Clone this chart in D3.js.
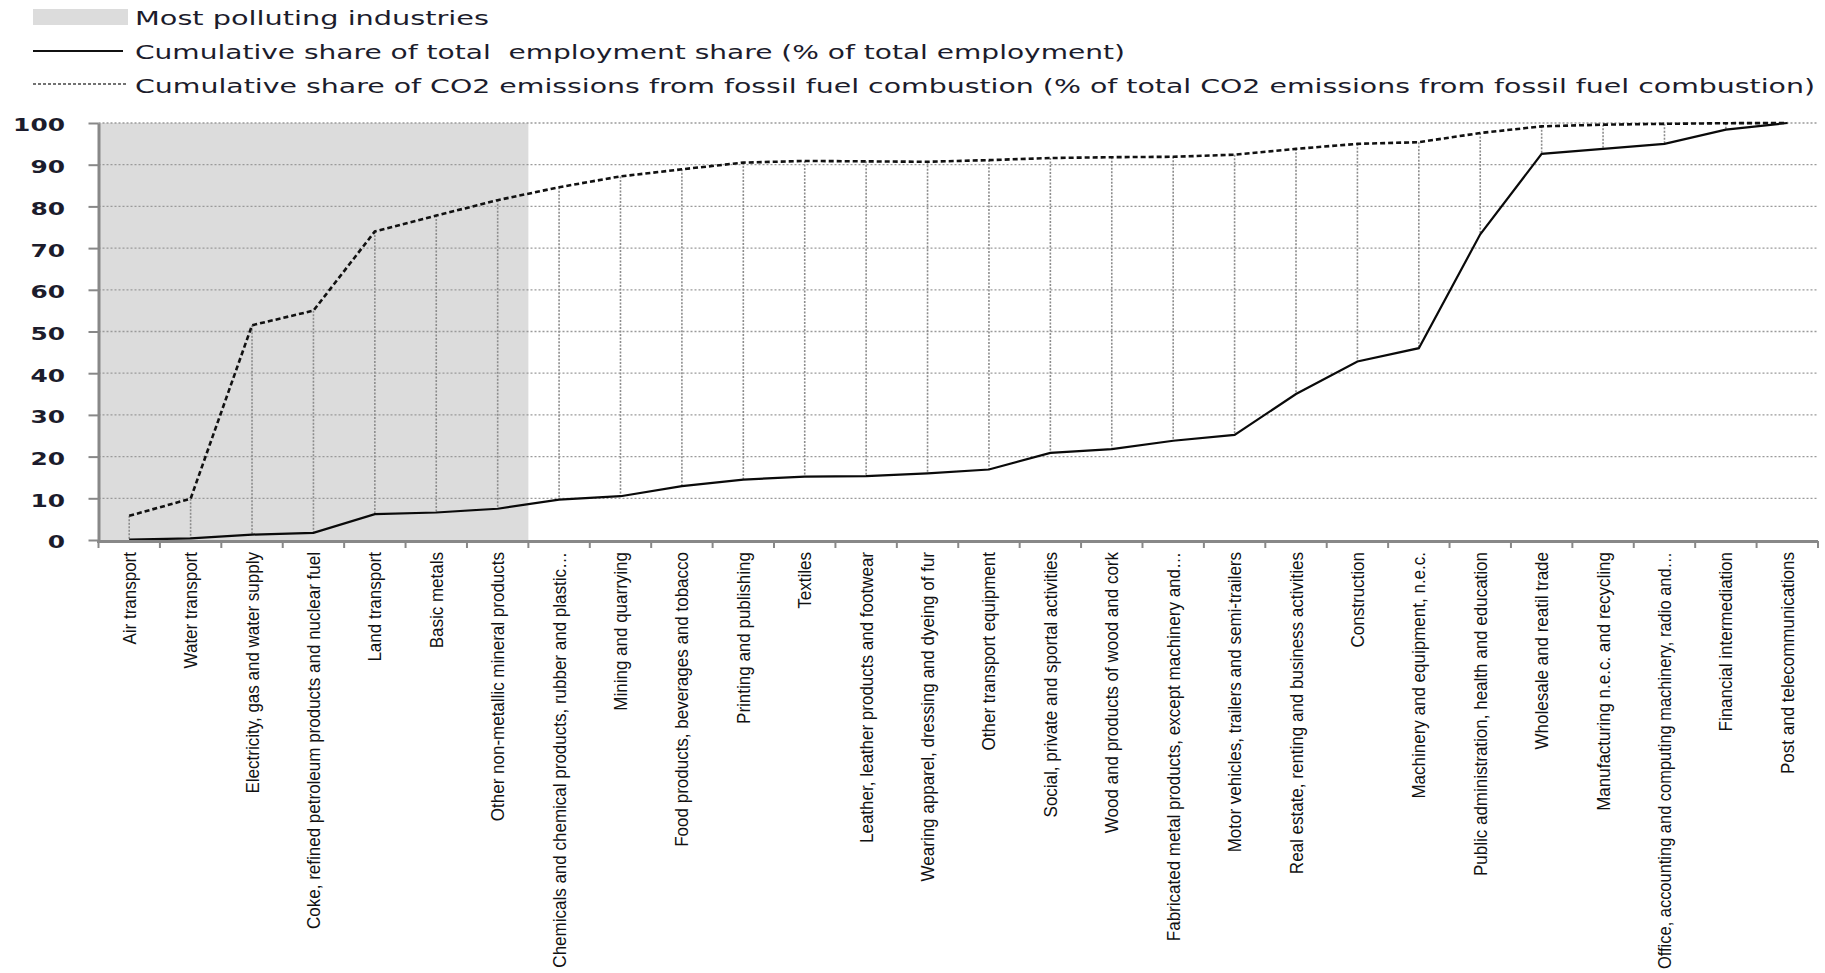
<!DOCTYPE html>
<html>
<head>
<meta charset="utf-8">
<script src="https://cdn.jsdelivr.net/npm/d3@7"></script>
<style>
  body { margin: 0; background: #ffffff; }
  svg { display: block; }
</style>
</head>
<body>
<svg id="chart" width="1825" height="973"></svg>
<script>
// ---------------- DATA ----------------
const categories = [
  "Air transport",
  "Water transport",
  "Electricity, gas and water supply",
  "Coke, refined petroleum products and nuclear fuel",
  "Land transport",
  "Basic metals",
  "Other non-metallic mineral products",
  "Chemicals and chemical products, rubber and plastic…",
  "Mining and quarrying",
  "Food products, beverages and tobacco",
  "Printing and publishing",
  "Textiles",
  "Leather, leather products and footwear",
  "Wearing apparel, dressing and dyeing of fur",
  "Other transport equipment",
  "Social, private and sportal activities",
  "Wood and products of wood and cork",
  "Fabricated metal products, except machinery and…",
  "Motor vehicles, trailers and semi-trailers",
  "Real estate, renting and business activities",
  "Construction",
  "Machinery and equipment, n.e.c.",
  "Public administration, health and education",
  "Wholesale and reatil trade",
  "Manufacturing n.e.c. and recycling",
  "Office, accounting and computing machinery, radio and…",
  "Financial intermediation",
  "Post and telecommunications"
];

// Cumulative share of CO2 emissions from fossil fuel combustion (%)
const co2Share = [5.8, 9.9, 51.5, 55.0, 74.0, 77.8, 81.5, 84.6, 87.2, 88.9, 90.5, 90.9, 90.8, 90.7,
                  91.1, 91.6, 91.8, 91.9, 92.4, 93.8, 95.0, 95.4, 97.6, 99.2, 99.6, 99.8, 99.95, 100];

// Cumulative share of total employment (%)
const employmentShare = [0.1, 0.4, 1.3, 1.7, 6.2, 6.6, 7.5, 9.7, 10.5, 12.9, 14.5, 15.2, 15.3, 16.0,
                         16.9, 20.9, 21.8, 23.8, 25.2, 35.0, 42.8, 46.0, 73.3, 92.6, 93.8, 95.0, 98.4, 100];

const pollutingIndustries = [
  "Air transport",
  "Water transport",
  "Electricity, gas and water supply",
  "Coke, refined petroleum products and nuclear fuel",
  "Land transport",
  "Basic metals",
  "Other non-metallic mineral products"
];

const yTicks = [0, 10, 20, 30, 40, 50, 60, 70, 80, 90, 100];

const legendLabels = [
  "Most polluting industries",
  "Cumulative share of total  employment share (% of total employment)",
  "Cumulative share of CO2 emissions from fossil fuel combustion (% of total CO2 emissions from fossil fuel combustion)"
];

// ---------------- LAYOUT ----------------
const m = { left: 98.5, right: 1818, top: 123, bottom: 540 };
const legendBaselines = [25, 59, 92.5];
const legendWidths = [354, 990, 1680];

// ---------------- CHART ----------------
const svg = d3.select("#chart");

const x = d3.scaleBand().domain(categories).range([m.left, m.right]).padding(0);
const y = d3.scaleLinear().domain([0, 100]).range([m.bottom, m.top]);
const cx = d => x(d) + x.bandwidth() / 2;

const rows = categories.map((c, i) => ({ c, co2: co2Share[i], emp: employmentShare[i] }));

// shaded region for most polluting industries
const pol = categories.filter(c => pollutingIndustries.includes(c));
svg.append("rect")
  .attr("x", x(pol[0]))
  .attr("y", y(100))
  .attr("width", x(pol[pol.length - 1]) + x.bandwidth() - x(pol[0]))
  .attr("height", y(0) - y(100))
  .attr("fill", "#dcdcdc");

// horizontal gridlines
svg.append("g").selectAll("line")
  .data(yTicks.filter(t => t > 0))
  .join("line")
  .attr("x1", m.left).attr("x2", m.right)
  .attr("y1", d => y(d)).attr("y2", d => y(d))
  .attr("stroke", "#9a9a9a")
  .attr("stroke-width", 1.3)
  .attr("stroke-dasharray", "2,2");

// high-low (drop) lines
svg.append("g").selectAll("line")
  .data(rows)
  .join("line")
  .attr("x1", d => cx(d.c)).attr("x2", d => cx(d.c))
  .attr("y1", d => y(d.co2)).attr("y2", d => y(d.emp))
  .attr("stroke", "#8c8c8c")
  .attr("stroke-width", 1.6)
  .attr("stroke-dasharray", "2,1.5");

// series lines
const lineGen = key => d3.line().x(d => cx(d.c)).y(d => y(d[key]));
svg.append("path").datum(rows)
  .attr("d", lineGen("emp"))
  .attr("fill", "none").attr("stroke", "#0a0a0a").attr("stroke-width", 2.2);
svg.append("path").datum(rows)
  .attr("d", lineGen("co2"))
  .attr("fill", "none").attr("stroke", "#111").attr("stroke-width", 2.6)
  .attr("stroke-dasharray", "5,3");

// y axis
const yAxis = d3.axisLeft(y).tickValues(yTicks).tickSize(10).tickSizeOuter(0)
  .tickPadding(23.5).tickFormat(d3.format("d"));
const gy = svg.append("g").attr("transform", `translate(${m.left},0)`).call(yAxis);
gy.select(".domain").attr("stroke", "#888").attr("stroke-width", 3);
gy.selectAll(".tick line").attr("stroke", "#888").attr("stroke-width", 2);
gy.selectAll(".tick text")
  .attr("font-family", "DejaVu Sans, Verdana, sans-serif")
  .attr("font-weight", "bold")
  .attr("font-size", 18)
  .attr("fill", "#1c1c2c")
  .attr("dy", "0.44em")
  .attr("textLength", d => String(d).length * 17.3)
  .attr("lengthAdjust", "spacingAndGlyphs");

// x axis
const gx = svg.append("g");
gx.append("line")
  .attr("x1", m.left - 1.5).attr("x2", m.right)
  .attr("y1", m.bottom + 1.5).attr("y2", m.bottom + 1.5)
  .attr("stroke", "#888").attr("stroke-width", 3);
gx.selectAll("line.tk")
  .data(categories.map(c => x(c)).concat([m.right]))
  .join("line").attr("class", "tk")
  .attr("x1", d => d).attr("x2", d => d)
  .attr("y1", m.bottom + 1).attr("y2", m.bottom + 8)
  .attr("stroke", "#888").attr("stroke-width", 2);
const labelTop = 552;
const xl = gx.selectAll("text")
  .data(categories)
  .join("text")
  .attr("transform", d => `translate(${cx(d) + 6.5},${labelTop}) rotate(-90) scale(1,1.08)`)
  .attr("text-anchor", "end")
  .attr("font-family", "Liberation Sans, Arial, sans-serif")
  .attr("font-size", 17)
  .attr("fill", "#111")
  .text(d => d);
// keep every label inside the picture
const maxLen = 973 - labelTop - 4;
xl.each(function () {
  const len = this.getComputedTextLength();
  if (len > maxLen) {
    d3.select(this).attr("textLength", maxLen).attr("lengthAdjust", "spacingAndGlyphs");
  }
});

// legend
const lg = svg.append("g");
lg.append("rect").attr("x", 33).attr("y", 9).attr("width", 95).attr("height", 16).attr("fill", "#dcdcdc");
lg.append("line").attr("x1", 33).attr("x2", 123).attr("y1", 51).attr("y2", 51)
  .attr("stroke", "#111").attr("stroke-width", 2);
lg.append("line").attr("x1", 33).attr("x2", 126).attr("y1", 84).attr("y2", 84)
  .attr("stroke", "#444").attr("stroke-width", 1.5).attr("stroke-dasharray", "3,2");

lg.selectAll("text.lt")
  .data(legendLabels)
  .join("text").attr("class", "lt")
  .attr("x", 135)
  .attr("y", (d, i) => legendBaselines[i])
  .attr("font-family", "DejaVu Sans, Verdana, sans-serif")
  .attr("font-size", 20)
  .attr("fill", "#1c1c2c")
  .style("white-space", "pre")
  .attr("textLength", (d, i) => legendWidths[i])
  .attr("lengthAdjust", "spacingAndGlyphs")
  .text(d => d);
</script>
</body>
</html>
